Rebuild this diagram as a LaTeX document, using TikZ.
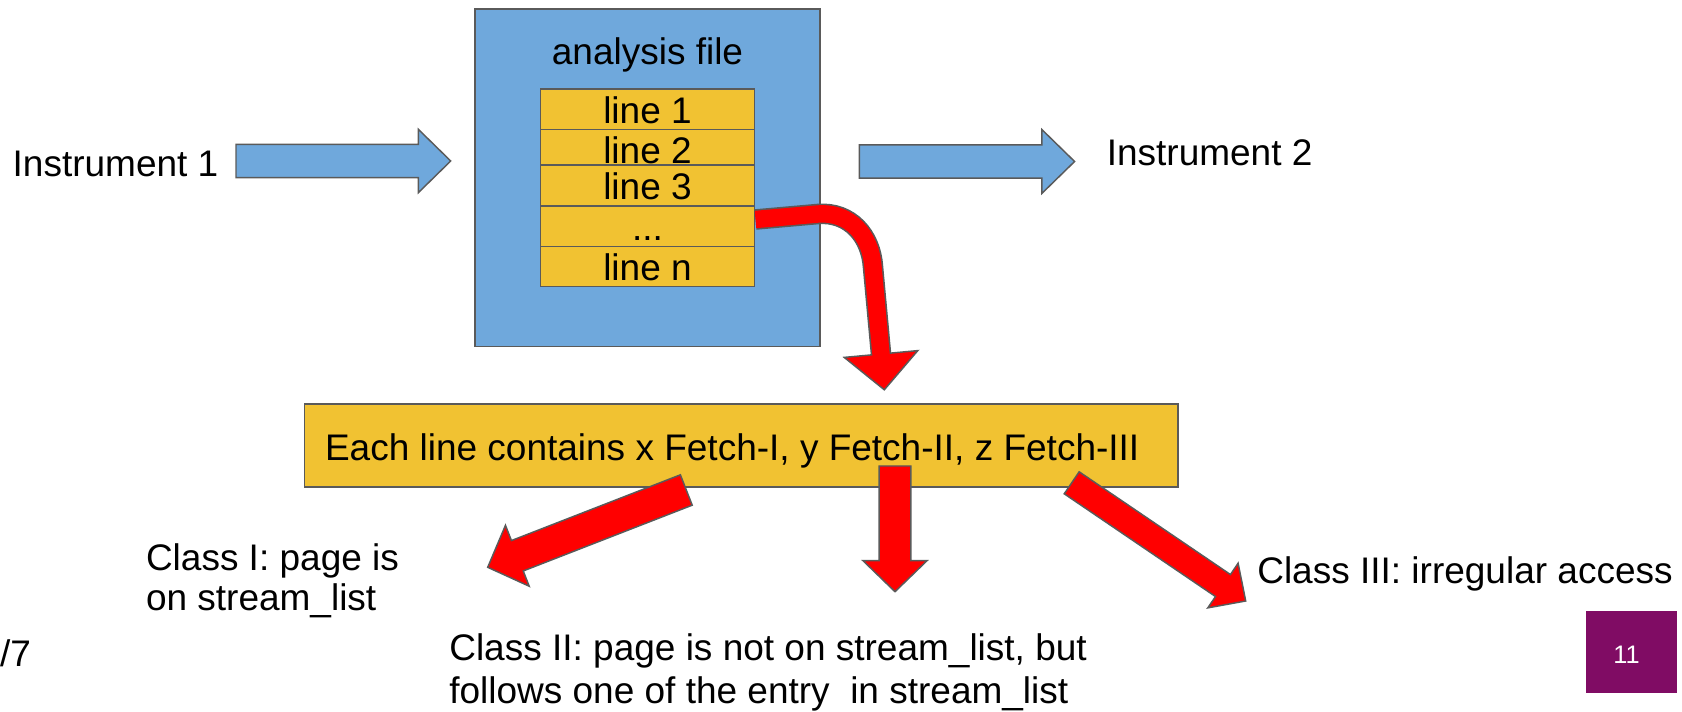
\documentclass[tikz,border=0pt]{standalone}
\usepackage{fontspec}
\setmainfont{Liberation Sans}
\usetikzlibrary{calc}

\definecolor{fileblue}{HTML}{6FA8DC}
\definecolor{rowgold}{HTML}{F1C232}
\definecolor{edgegray}{HTML}{5A5A5A}
\definecolor{arrowred}{HTML}{FF0000}
\definecolor{slidepurple}{HTML}{800C64}

% one drawing unit = one pixel
\newcommand\pxu{0.75pt}

% block arrow: style, tail, tip, shaft half-width, head half-width, head length (px)
\newcommand\blockarrow[6]{%
  \coordinate (ba-base) at ($(#3)!#6*0.75pt!(#2)$);
  \draw[#1] ($(#2)!#4*0.75pt!90:(#3)$)
    -- ($(ba-base)!#4*0.75pt!-90:(#2)$)
    -- ($(ba-base)!#5*0.75pt!-90:(#2)$)
    -- (#3)
    -- ($(ba-base)!#5*0.75pt!90:(#2)$)
    -- ($(ba-base)!#4*0.75pt!90:(#2)$)
    -- ($(#2)!#4*0.75pt!-90:(#3)$) -- cycle;
}

\begin{document}
\begin{tikzpicture}[x=0.75pt, y=-0.75pt,
  every node/.style={inner sep=0pt, outer sep=0pt},
  txt/.style={font=\fontsize{27.75pt}{30pt}\selectfont, text=black},
  numtxt/.style={font=\fontsize{19pt}{22pt}\selectfont, text=white},
  filebox/.style={draw=edgegray, line width=1.25pt, fill=fileblue},
  rowbox/.style={draw=edgegray, line width=1.1pt, fill=rowgold, minimum width=213.6*\pxu},
  fetchbox/.style={draw=edgegray, line width=1.2pt, fill=rowgold},
  bluearrow/.style={draw=edgegray, line width=1.1pt, fill=fileblue, line join=miter},
  redarrow/.style={draw=edgegray, line width=1.1pt, fill=arrowred, line join=miter},
]
\useasboundingbox (0,0) rectangle (1682,712);

% analysis file with its lines
\node[filebox, minimum width=345*\pxu, minimum height=337.5*\pxu] (file) at (647.5,177.75) {};
\node[txt, anchor=base] (ftitle) at (647.5,65) {analysis file};

\node[rowbox, minimum height=40.3*\pxu] (r1) at (647.5,109.15) {};
\node[rowbox, minimum height=35.7*\pxu] (r2) at (647.5,147.15) {};
\node[rowbox, minimum height=41*\pxu]   (r3) at (647.5,185.5) {};
\node[rowbox, minimum height=40.7*\pxu] (r4) at (647.5,226.35) {};
\node[rowbox, minimum height=40*\pxu]   (r5) at (647.5,266.7) {};

\node[txt, anchor=base] (t1) at (647.5,124) {line 1};
\node[txt, anchor=base] (t2) at (647.5,163.3) {line 2};
\node[txt, anchor=base] (t3) at (647.5,200) {line 3};
\node[txt, anchor=base] (t4) at (647.5,240.7) {...};
\node[txt, anchor=base] (t5) at (647.5,281) {line n};

% curved arrow from the lines down to the summary box
\coordinate (cv0) at (755.5,219.5);
\coordinate (cv1) at (818,214);
\coordinate (cv2) at (873,267);
\coordinate (cvb) at (881,354);
\draw[edgegray, line width=20.6*\pxu] (cv0) -- (cv1) .. controls (850,211.5) and (871,236) .. (cv2) -- (cvb);
\draw[redarrow] (844.2,357.4) -- (884.3,389.8) -- (917.8,350.6) -- cycle;
\draw[arrowred, line width=17.4*\pxu] (cv0) -- (cv1) .. controls (850,211.5) and (871,236) .. (cv2) -- (cvb) -- (881.4,358);

% instruments
\node[txt, anchor=base west] (inst1) at (12.7,176.7) {Instrument 1};
\node[txt, anchor=base west] (inst2) at (1106.8,165.7) {Instrument 2};
\coordinate (a1s) at (236,161);
\coordinate (a1e) at (450.7,161);
\blockarrow{bluearrow}{a1s}{a1e}{16.7}{31.7}{32.4}
\coordinate (a2s) at (859.3,161.5);
\coordinate (a2e) at (1074.6,161.5);
\blockarrow{bluearrow}{a2s}{a2e}{16.6}{32}{32.8}

% summary box
\node[fetchbox, minimum width=873.2*\pxu, minimum height=83*\pxu] (fetch) at (741.1,445.8) {};
\node[txt, anchor=base west] (ftext) at (325,460.7) {Each line contains x Fetch-I, y Fetch-II, z Fetch-III};

% the three classes
\coordinate (k1s) at (686.3,490);
\coordinate (k1e) at (487.7,567.3);
\blockarrow{redarrow}{k1s}{k1e}{16.3}{32.7}{31.8}
\coordinate (k2s) at (895,466);
\coordinate (k2e) at (895,591.7);
\blockarrow{redarrow}{k2s}{k2e}{15.9}{32}{31}
\coordinate (k3s) at (1071.7,482.8);
\coordinate (k3e) at (1245.7,601);
\blockarrow{redarrow}{k3s}{k3e}{13.3}{27}{27.5}

\node[txt, anchor=base west] (c1a) at (146,571) {Class I: page is};
\node[txt, anchor=base west] (c1b) at (146,611) {on stream\_list};
\node[txt, anchor=base west] (c2a) at (449.3,660.7) {Class II: page is not on stream\_list, but};
\node[txt, anchor=base west] (c2b) at (449.3,703.3) {follows one of the entry\ \ in stream\_list};
\node[txt, anchor=base west] (c3) at (1257.3,583.3) {Class III: irregular access};

% page marks
\node[txt, anchor=base west] (pg) at (0,666.7) {/7};
\node[fill=slidepurple, minimum width=90.7*\pxu, minimum height=82.3*\pxu] (pgbox) at (1631.35,652.15) {};
\node[numtxt, anchor=base] (pgnum) at (1626.5,663.3) {11};
\end{tikzpicture}
\end{document}
